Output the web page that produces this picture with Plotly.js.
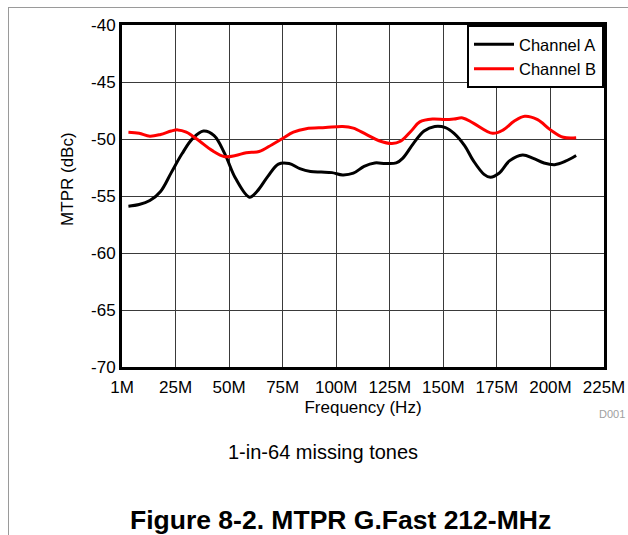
<!DOCTYPE html>
<html>
<head>
<meta charset="utf-8">
<script src="https://cdn.plot.ly/plotly-3.0.1.min.js"></script>
<style>
  html, body { margin: 0; padding: 0; background: #fff; }
  #wrap { position: relative; width: 628px; height: 535px; }
  #chart { position: absolute; left: 0; top: 0; width: 628px; height: 535px; }
  #frameL { position: absolute; left: 8px; top: 7px; width: 1px; height: 528px; background: #9a9a9a; }
  #frameT { position: absolute; left: 8px; top: 7px; width: 620px; height: 1px; background: #9a9a9a; }
</style>
</head>
<body>
<div id="wrap">
  <div id="chart"></div>
  <div id="frameL"></div>
  <div id="frameT"></div>
</div>
<script>
// Frequency axis positions (MHz; the "1M" tick sits at position 0)
const tickVals = [0, 25, 50, 75, 100, 125, 150, 175, 200, 225];
const tickText = ["1M", "25M", "50M", "75M", "100M", "125M", "150M", "175M", "200M", "225M"];
// MTPR axis ticks (dBc)
const yTickVals = [-70, -65, -60, -55, -50, -45, -40];
const yTickText = ["-70", "-65", "-60", "-55", "-50", "-45", "-40"];

// Channel A (black)
const freqA = [3, 8, 13, 18, 23, 28, 33, 38, 43, 48, 53, 59.5, 63, 68, 73, 78, 83, 88, 93, 98, 103, 108, 113, 118, 123, 128, 131, 136, 141, 146, 151, 155, 160, 164, 169, 172, 176, 181, 187, 192, 197, 202, 207, 212];
const mtprA = [-55.9, -55.75, -55.4, -54.6, -52.95, -51.3, -49.95, -49.3, -49.7, -51.3, -53.45, -55.1, -54.6, -53.3, -52.2, -52.15, -52.6, -52.85, -52.9, -52.95, -53.15, -53.0, -52.4, -52.1, -52.15, -52.1, -51.7, -50.4, -49.3, -48.9, -49.0, -49.5, -50.6, -51.9, -53.1, -53.35, -53.0, -51.9, -51.4, -51.7, -52.1, -52.25, -51.95, -51.45];

// Channel B (red)
const freqB = [3, 8, 13, 18, 23, 26, 30, 36, 42, 48, 53, 58, 64, 70, 75, 80, 86, 95, 103, 108, 114, 120, 126, 130, 135, 139, 145, 151, 155, 159, 164, 173, 178, 183, 188, 194, 200, 206, 212];
const mtprB = [-49.4, -49.5, -49.75, -49.6, -49.3, -49.2, -49.4, -50.15, -51.0, -51.55, -51.45, -51.2, -51.1, -50.5, -49.95, -49.4, -49.1, -49.0, -48.9, -49.05, -49.6, -50.15, -50.4, -50.2, -49.3, -48.5, -48.25, -48.3, -48.25, -48.15, -48.6, -49.5, -49.2, -48.45, -48.0, -48.3, -49.2, -49.85, -49.9];

const FONT = "Liberation Sans, Arial, Helvetica, sans-serif";

const traces = [
  { x: freqA, y: mtprA, name: "Channel A", type: "scatter", mode: "lines",
    line: { color: "#000000", width: 3, shape: "spline", smoothing: 1 } },
  { x: freqB, y: mtprB, name: "Channel B", type: "scatter", mode: "lines",
    line: { color: "#ff0000", width: 3, shape: "spline", smoothing: 1 } }
];

const layout = {
  width: 628, height: 535,
  margin: { l: 122, r: 24, t: 25, b: 168, pad: 0 },
  paper_bgcolor: "#ffffff", plot_bgcolor: "#ffffff",
  font: { family: FONT, size: 17, color: "#000" },
  showlegend: true,
  legend: {
    x: 1, y: 1, xanchor: "right", yanchor: "top",
    bgcolor: "#ffffff", bordercolor: "#000000", borderwidth: 2,
    font: { family: FONT, size: 16.5, color: "#000" },
    tracegroupgap: 0, itemwidth: 40
  },
  xaxis: {
    range: [0, 225], tickmode: "array", tickvals: tickVals, ticktext: tickText,
    showgrid: true, gridcolor: "#3a3a3a", gridwidth: 1,
    showline: true, linecolor: "#000", linewidth: 3, mirror: true,
    ticks: "", zeroline: false, fixedrange: true, ticklabelstandoff: 3,
    tickfont: { family: FONT, size: 17, color: "#000" },
    title: { text: "Frequency (Hz)", font: { family: FONT, size: 17, color: "#000" }, standoff: 5 }
  },
  yaxis: {
    range: [-70, -40], tickmode: "array", tickvals: yTickVals, ticktext: yTickText,
    showgrid: true, gridcolor: "#3a3a3a", gridwidth: 1,
    showline: true, linecolor: "#000", linewidth: 3, mirror: true,
    ticks: "", zeroline: false, fixedrange: true,
    tickfont: { family: FONT, size: 17, color: "#000" }
  },
  annotations: [
    { text: "MTPR (dBc)", textangle: -90, xref: "paper", yref: "paper",
      x: -0.112, y: 0.55, xanchor: "center", yanchor: "middle", showarrow: false,
      font: { family: FONT, size: 17, color: "#000" } },
    { text: "D001", xref: "paper", yref: "paper", x: 1.0477, y: -0.137,
      xanchor: "right", yanchor: "middle", showarrow: false,
      font: { family: FONT, size: 11, color: "#a0a0a0" } },
    { text: "1-in-64 missing tones", xref: "paper", yref: "paper", x: 0.4164, y: -0.2485,
      xanchor: "center", yanchor: "middle", showarrow: false,
      font: { family: FONT, size: 20, color: "#000" } },
    { text: "<b>Figure 8-2. MTPR G.Fast 212-MHz</b>", xref: "paper", yref: "paper", x: 0.454, y: -0.447,
      xanchor: "center", yanchor: "middle", showarrow: false,
      font: { family: FONT, size: 26.5, color: "#000" } }
  ]
};

Plotly.newPlot("chart", traces, layout, { displayModeBar: false, staticPlot: true });
</script>
</body>
</html>
